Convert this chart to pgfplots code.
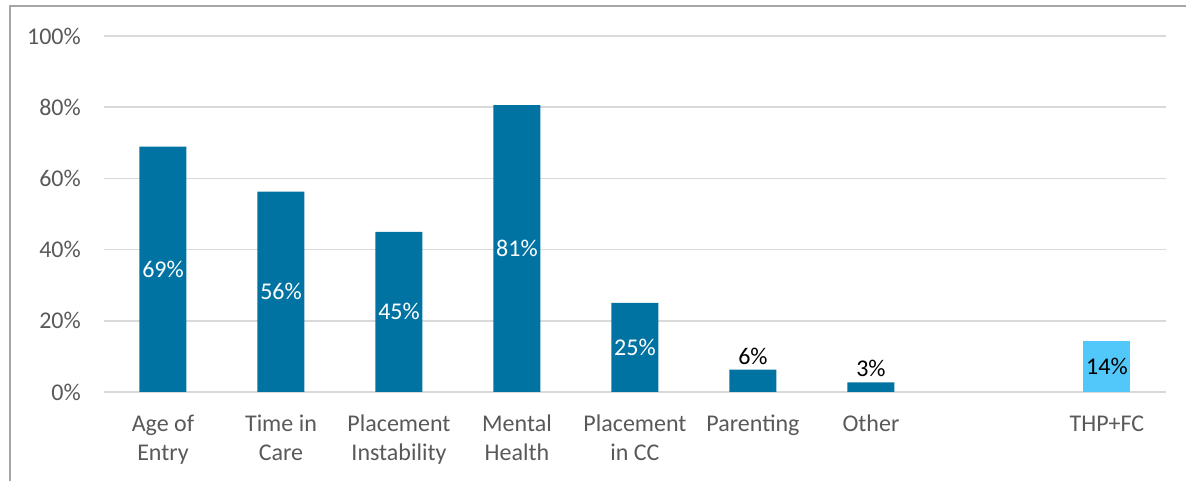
\documentclass[border=0pt]{standalone}
\usepackage{fontspec}
\setmainfont{Carlito}
\usepackage{pgfplots}
\pgfplotsset{compat=1.18}
\usepackage{pgfplotstable}
\definecolor{barblue}{RGB}{0,115,163}
\definecolor{lightblue}{RGB}{82,200,250}
\definecolor{gridgray}{RGB}{217,217,217}
\definecolor{labgray}{RGB}{89,89,89}
\definecolor{framegray}{RGB}{166,166,166}

\pgfplotstableread{
x y
0 68.9
1 56.3
2 45.0
3 80.6
4 25.0
}\datain
\pgfplotstableread{
x y
5 6.3
6 2.7
}\datasmall
\pgfplotstableread{
x y
8 14.3
}\datathp

\begin{document}
\begin{tikzpicture}
\path[use as bounding box] (0pt,0pt) rectangle (1186pt,481pt);
\draw[framegray, line width=1.5pt] (10pt,0pt) -- (10pt,475pt) -- (1186pt,475pt);
\begin{axis}[
  at={(104pt,89pt)}, anchor=south west,
  scale only axis, width=1062pt, height=356pt,
  xmin=-0.5, xmax=8.5, ymin=0, ymax=100,
  ytick={0,20,40,60,80,100},
  yticklabel={\pgfmathprintnumber{\tick}\%},
  xtick={0,1,2,3,4,5,6,8},
  xticklabels={\strut Age of\\Entry, \strut Time in\\Care, \strut Placement\\Instability, \strut Mental\\Health, \strut Placement\\in CC, \strut Parenting, \strut Other, \strut THP+FC},
  /pgf/number format/assume math mode=true,
  axis line style={draw=none},
  major tick length=0pt,
  ymajorgrids,
  major grid style={gridgray, line width=1.5pt},
  tick label style={text=labgray, font=\fontsize{24}{29}\selectfont},
  yticklabel style={inner sep=0pt, anchor=east, xshift=-23pt},
  xticklabel style={align=center, anchor=north, inner sep=0pt, yshift=-18.7pt},
  clip=false,
]
\addplot[ybar, bar shift=0pt, bar width=47pt, fill=barblue, draw=none] table[x=x,y=y] {\datain};
\addplot[ybar, bar shift=0pt, bar width=47pt, fill=barblue, draw=none,
  nodes near coords={\pgfmathprintnumber[fixed,precision=0]{\pgfplotspointmeta}\%},
  point meta=y,
  nodes near coords style={text=black, font=\fontsize{24}{28}\selectfont, anchor=south, inner sep=5pt}] table[x=x,y=y] {\datasmall};
\addplot[ybar, bar shift=0pt, bar width=47pt, fill=lightblue, draw=none] table[x=x,y=y] {\datathp};
% centred labels
\addplot[draw=none, mark=none,
  nodes near coords={\pgfmathprintnumber[fixed,precision=0]{\pgfplotspointmeta}\%},
  point meta=explicit,
  nodes near coords style={text=white, font=\fontsize{24}{28}\selectfont, anchor=center}]
  table[x=x, y expr=\thisrow{y}/2, meta=y] {\datain};
\addplot[draw=none, mark=none,
  nodes near coords={\pgfmathprintnumber[fixed,precision=0]{\pgfplotspointmeta}\%},
  point meta=explicit,
  nodes near coords style={text=black, font=\fontsize{24}{28}\selectfont, anchor=center}]
  table[x=x, y expr=\thisrow{y}/2, meta=y] {\datathp};
\end{axis}
\end{tikzpicture}
\end{document}
